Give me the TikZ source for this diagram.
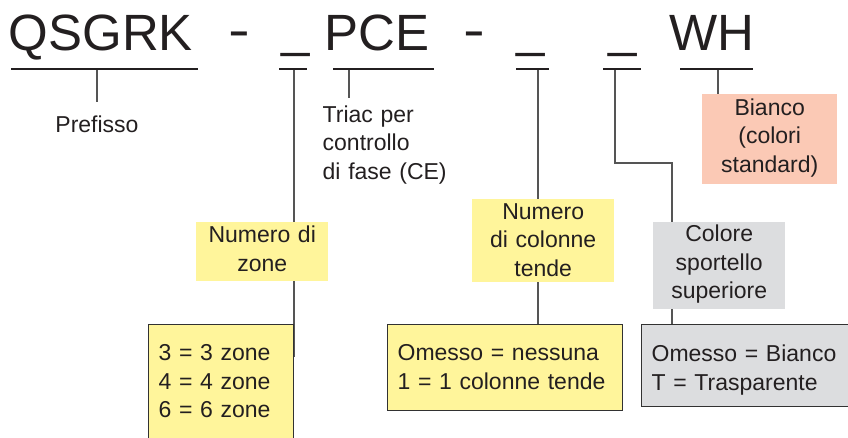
\documentclass[tikz,border=0pt]{standalone}
\usepackage{fontspec}
\usepackage{graphicx}
\setmainfont{Liberation Sans}
\usetikzlibrary{backgrounds}
\definecolor{boxyellow}{RGB}{255,245,155}
\definecolor{boxsalmon}{RGB}{251,201,181}
\definecolor{boxgray}{RGB}{220,221,223}
\definecolor{linegray}{RGB}{85,85,85}
\definecolor{frame}{RGB}{50,50,50}
\definecolor{txt}{RGB}{35,31,32}
\begin{document}
\begin{tikzpicture}[x=1pt,y=-1pt,
  title/.style={anchor=base west, inner sep=0pt, font=\fontsize{51}{51}\selectfont, text=txt},
  lbl/.style={font=\fontsize{23}{28.5}\selectfont, text=txt, inner sep=0pt},
  fillbox/.style={lbl, anchor=north west, align=center, inner xsep=0pt, inner ysep=0pt},
  framebox/.style={lbl, anchor=north west, align=left, draw=frame, line width=1.2pt, inner xsep=10pt, inner ysep=0pt},
  uline/.style={draw=txt, line width=1.3pt},
  conn/.style={draw=linegray, line width=1.3pt},
]
\useasboundingbox (0,0) rectangle (848,437);

% title
\node[title] (t1) at (8.6,50) {QSGRK};
\node[title] (t2) at (228.1,47.4) {\scalebox{1.28}[1]{-}};
\node[title] (t3) at (281,46.5) {\_};
\node[title] (t4) at (324,50) {PCE};
\node[title] (t5) at (463.1,47.4) {\scalebox{1.28}[1]{-}};
\node[title] (t6) at (516.3,46.5) {\_};
\node[title] (t7) at (608.3,46.5) {\_};
\node[title] (t8) at (669.5,50) {WH};

% underlines
\draw[uline] (11,69) -- (198,69);
\draw[uline] (279,69) -- (307,69);
\draw[uline] (333,69) -- (434,69);
\draw[uline] (516,69) -- (549,69);
\draw[uline] (603,69) -- (641,69);
\draw[uline] (680,69) -- (753,69);

\coordinate (u1) at (97,69);
\coordinate (u2) at (294,69);
\coordinate (u3) at (349,69);
\coordinate (u4) at (538,69);
\coordinate (u5) at (615,69);
\coordinate (u6) at (718,69);
\coordinate (e2) at (294,357);
\coordinate (k5) at (672,163);

% labels
\node[lbl, anchor=base, text height=30pt] (pref) at (97,132) {Prefisso};
\node[lbl, anchor=north west, align=left, text width=130pt, text height=24pt] (triac) at (322.5,98) {Triac per\\controllo\\di fase (CE)};

% filled boxes
\node[fillbox, fill=boxyellow, text width=132pt, text height=20.3pt, text depth=38.7pt] (zone) at (196,222) {Numero di\\zone};
\node[fillbox, fill=boxyellow, text width=142pt, text height=20pt, text depth=63pt] (ncol) at (472,199) {Numero\\di colonne\\tende};
\node[fillbox, fill=boxgray, text width=132pt, text height=19.5pt, text depth=67.5pt] (spor) at (653,222) {Colore\\sportello\\superiore};
\node[fillbox, fill=boxsalmon, text width=135pt, text height=21pt, text depth=69pt] (bianco) at (702,94) {Bianco\\(colori\\standard)};

% framed boxes
\node[framebox, fill=boxyellow, text width=125pt, text height=36pt, text depth=100pt] (zv) at (148,324) {3 = 3 zone\\4 = 4 zone\\6 = 6 zone};
\node[framebox, fill=boxyellow, text width=215pt, text height=36pt, text depth=50pt] (cv) at (387,324) {Omesso = nessuna\\1 = 1 colonne tende};
\node[framebox, fill=boxgray, text width=209pt, text height=37pt, text depth=45pt] (sv) at (641,324) {Omesso = Bianco\\T = Trasparente};

% connectors
\begin{scope}[on background layer]
\draw[conn] (u1) -- (pref.north);
\draw[conn] (u2) -- (e2);
\draw[conn] (u3) -- (u3 |- triac.north);
\draw[conn] (u4) -- (u4 |- cv.north);
\draw[conn] (u5) |- (k5) -- (k5 |- sv.north);
\draw[conn] (u6) -- (u6 |- bianco.north);
\end{scope}
\end{tikzpicture}
\end{document}
